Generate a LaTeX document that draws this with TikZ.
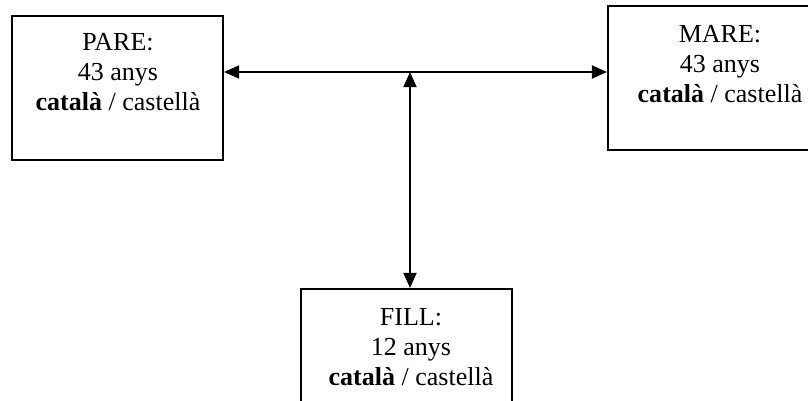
\documentclass[tikz,border=0pt]{standalone}
\usepackage{fontspec}
\setmainfont{Liberation Serif}
\usetikzlibrary{arrows.meta}
\begin{document}
\begin{tikzpicture}[x=0.4615pt,y=-0.4615pt,
  persona/.style={draw,line width=0.9pt,rectangle,anchor=north west,minimum width=97.4pt,minimum height=66.5pt,inner sep=0pt},
  dades/.style={anchor=north,align=center,inner sep=0pt,font=\fontsize{12}{13.85}\selectfont},
  fletxa/.style={{Triangle[length=7pt,width=6pt]}-{Triangle[length=7pt,width=6pt]},line width=1pt}]
\useasboundingbox (0,0) rectangle (808,401);
\clip (0,0) rectangle (808,401);
\node[persona] (pare) at (11,15) {};
\node[dades] (tpare) at (118,33) {PARE:\\43 anys\\\textbf{català} / castellà};
\node[persona,minimum width=104.3pt] (mare) at (607,5) {};
\node[dades] (tmare) at (720,25) {MARE:\\43 anys\\\textbf{català} / castellà};
\node[persona] (fill) at (300,288) {};
\node[dades] (tfill) at (411,308) {FILL:\\12 anys\\\textbf{català} / castellà};
\coordinate (mig) at (410,72);
\draw[fletxa] (pare.east |- mig) -- (mare.west |- mig);
\draw[fletxa] (mig) -- (mig |- fill.north);
\end{tikzpicture}
\end{document}
